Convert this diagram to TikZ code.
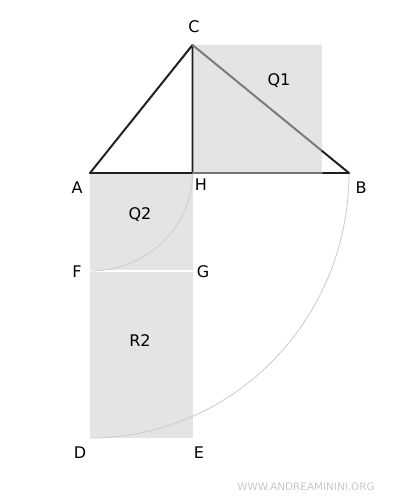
\documentclass[tikz,border=0pt]{standalone}
\usepackage{fontspec}
\setmainfont{DejaVu Sans}
\usetikzlibrary{positioning,calc}
\definecolor{sqgray}{HTML}{E4E4E4}
\definecolor{arcgray}{HTML}{CCCCCC}
\definecolor{edgegray}{HTML}{7A7A7A}
\definecolor{markgray}{HTML}{C8C8C8}

\begin{document}
\begin{tikzpicture}[x=0.025cm, y=-0.025cm, outer sep=0pt]
\tikzstyle{side}=[
                  draw=black!88,
                  line width=1.4pt,
                  line cap=round,
                  line join=round]

\tikzstyle{arcline}=[
                  draw=arcgray,
                  line width=0.6pt]

\tikzstyle{letter}=[
                  inner sep=0pt,
                  font=\fontsize{11.4}{13}\selectfont]

\useasboundingbox (0,0) rectangle (400,500);

\coordinate (A) at (90,173);
\coordinate (H) at (192.5,173);
\coordinate (B) at (349,173);
\coordinate (C) at (192.5,45);
\coordinate (F) at (90,271);
\coordinate (G) at (192.5,271);
\coordinate (D) at (90,438);
\coordinate (E) at (192.5,438);
\coordinate (q1) at (322,45);
\coordinate (q1b) at (322,173);
\coordinate (cb) at ($(C)!0.828!(B)$);

% squares
\fill[sqgray] (A) rectangle (G);
\fill[sqgray] (F) rectangle (E);
\fill[sqgray] (C) rectangle (q1b);
\draw[white,line width=0.8pt] (F) -- (G);

% arcs
\draw[arcline] (H) arc[start angle=0, end angle=90, x radius=102.5, y radius=98];
\draw[arcline] (B) arc[start angle=0, end angle=90, x radius=259, y radius=265];

% triangle
\draw[side] (B) -- (A) -- (C) -- (H);
\draw[side,draw=edgegray] (C) -- (cb);
\draw[side] (cb) -- (B);
\draw[side,draw=black!55] (H) -- (q1b);

\node[letter] (lblC)  at (194,27)  {C};
\node[letter] (lblA)  at (77,188)  {A};
\node[letter] (lblH)  at (201,185) {H};
\node[letter] (lblB)  at (361,188) {B};
\node[letter] (lblQ1) at (279,81)  {Q1};
\node[letter] (lblQ2) at (140,215) {Q2};
\node[letter] (lblF)  at (77,272)  {F};
\node[letter] (lblG)  at (203,272) {G};
\node[letter] (lblR2) at (140,341) {R2};
\node[letter] (lblD)  at (80,453)  {D};
\node[letter] (lblE)  at (199,453) {E};

\node[inner sep=0pt, text=markgray, font=\fontsize{7.4}{8}\selectfont] (mark) at (306,487) {WWW.ANDREAMININI.ORG};

\end{tikzpicture}
\end{document}
